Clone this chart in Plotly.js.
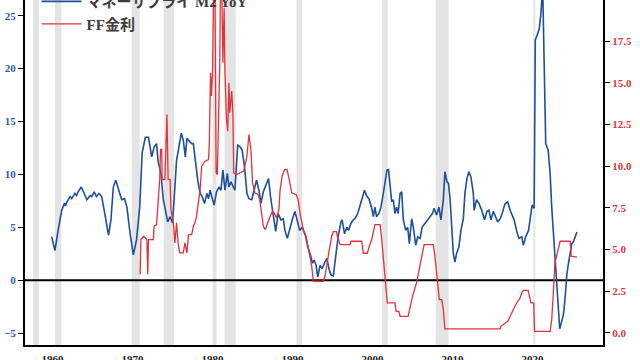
<!DOCTYPE html>
<html>
<head>
<meta charset="utf-8">
<script src="https://cdn.plot.ly/plotly-3.0.1.min.js"></script>
<style>html,body{margin:0;padding:0;background:#fff;}#chart{width:640px;height:360px;}</style>
</head>
<body>
<div id="chart"></div>
<script>
// M2 money supply YoY (%) - left axis
const m2Year = [1959.9,1960.3,1960.7,1961.15,1961.5,1961.6,1961.8,1962.2,1962.4,1962.8,1963.0,1963.2,1963.6,1963.85,1964.3,1964.7,1964.9,1965.2,1965.5,1965.8,1966.15,1966.6,1967.0,1967.3,1967.6,1967.9,1968.3,1968.65,1969.0,1969.3,1969.7,1970.1,1970.5,1970.9,1971.2,1971.6,1972.0,1972.2,1972.4,1972.7,1973.0,1973.2,1973.55,1973.85,1974.15,1974.4,1974.7,1975.0,1975.3,1975.5,1975.8,1976.1,1976.35,1976.6,1976.8,1977.05,1977.4,1977.6,1977.8,1978.15,1978.45,1978.7,1979.0,1979.3,1979.5,1979.7,1979.9,1980.2,1980.5,1980.8,1981.05,1981.3,1981.55,1981.85,1982.05,1982.3,1982.6,1982.8,1983.15,1983.45,1983.7,1984.0,1984.3,1984.55,1984.9,1985.2,1985.5,1985.8,1986.05,1986.35,1986.6,1987.0,1987.3,1987.6,1987.9,1988.2,1988.55,1988.85,1989.05,1989.35,1989.7,1990.0,1990.3,1990.6,1990.9,1991.2,1991.6,1991.9,1992.2,1992.5,1992.7,1992.95,1993.15,1993.45,1993.7,1994.05,1994.3,1994.55,1994.8,1995.1,1995.4,1995.7,1996.05,1996.2,1996.5,1996.8,1997.0,1997.3,1997.6,1997.8,1998.15,1998.45,1998.7,1999.0,1999.3,1999.55,1999.9,2000.1,2000.3,2000.5,2000.8,2001.05,2001.35,2001.55,2001.8,2002.0,2002.2,2002.4,2002.6,2002.8,2003.0,2003.2,2003.45,2003.65,2003.85,2004.15,2004.4,2004.6,2004.9,2005.1,2005.4,2005.65,2005.95,2006.2,2006.55,2006.9,2007.2,2007.5,2007.7,2008.0,2008.3,2008.55,2008.85,2009.05,2009.3,2009.5,2009.7,2009.9,2010.1,2010.3,2010.5,2010.8,2011.05,2011.35,2011.55,2011.8,2012.05,2012.3,2012.6,2012.7,2013.0,2013.3,2013.65,2014.0,2014.3,2014.55,2014.8,2015.1,2015.4,2015.65,2015.95,2016.2,2016.55,2016.9,2017.2,2017.4,2017.7,2018.0,2018.3,2018.65,2018.85,2019.15,2019.5,2019.8,2019.95,2020.2,2020.35,2020.65,2020.85,2021.05,2021.2,2021.3,2021.55,2021.65,2021.95,2022.2,2022.4,2022.6,2022.8,2023.0,2023.2,2023.4,2023.65,2023.85,2024.05,2024.3,2024.5,2024.7,2024.9,2025.1,2025.3,2025.55];
const m2Value = [4.1,2.8,4.7,6.6,7.3,7.0,7.4,7.9,7.7,8.2,8.0,8.35,8.8,8.35,7.6,8.0,7.9,8.35,7.9,8.2,7.9,6.0,4.25,5.7,8.8,9.45,8.5,7.6,7.7,6.9,4.4,2.4,3.8,6.9,12.0,13.5,13.5,12.6,11.65,12.6,12.9,11.2,10.1,7.6,6.6,5.5,6.0,5.4,8.8,11.3,12.6,13.9,13.2,11.65,13.4,13.2,12.9,12.9,11.65,9.45,8.2,7.9,7.25,8.2,7.7,8.5,7.9,7.1,8.35,8.8,8.5,10.4,8.5,10.1,8.8,9.3,8.8,8.5,12.75,12.6,12.3,10.7,8.2,7.7,7.6,8.5,9.45,8.5,7.25,8.35,8.8,9.6,7.6,6.0,4.6,6.3,5.7,5.8,4.7,3.95,5.0,5.8,6.5,5.7,4.7,5.0,4.25,3.15,2.5,1.6,1.9,1.4,0.3,1.4,1.1,1.7,2.05,1.1,0.5,0.4,2.2,4.1,5.5,5.7,4.4,5.0,4.7,5.35,5.7,5.8,6.3,7.1,7.6,8.5,7.9,7.7,6.8,6.0,6.9,6.0,6.3,6.9,8.2,9.2,10.4,10.45,9.1,7.4,7.6,6.3,6.9,6.3,8.2,8.35,5.7,4.7,5.0,3.45,5.8,5.0,3.3,4.1,3.95,5.0,5.35,5.7,6.0,6.3,6.8,6.15,6.9,5.7,7.6,10.25,9.3,9.15,7.6,5.0,2.5,1.7,2.5,3.15,4.7,5.8,8.2,9.6,10.25,9.75,8.2,6.6,7.6,7.25,6.6,5.7,6.5,6.6,5.7,6.5,6.0,5.5,5.8,6.3,7.2,7.4,6.6,6.3,5.7,4.7,3.95,4.1,3.3,4.1,4.7,6.3,7.1,6.8,22.7,23.3,23.8,25.2,26.9,26.6,13.5,12.9,12.3,10.1,6.9,4.4,1.9,-0.3,-2.5,-4.6,-3.9,-3.3,-1.9,0.6,1.6,2.5,3.45,3.6,4.1,4.55];

// Federal funds rate (%) - right axis
const ffYear = [1970.95,1971.05,1971.4,1971.8,1971.9,1972.0,1972.6,1972.7,1973.0,1973.2,1973.4,1973.5,1973.65,1973.7,1974.05,1974.3,1974.45,1974.7,1974.8,1975.1,1975.3,1975.5,1975.7,1975.9,1976.35,1976.55,1976.8,1977.0,1977.4,1977.6,1977.8,1978.0,1978.2,1978.45,1978.65,1979.05,1979.5,1979.6,1979.75,1979.85,1980.0,1980.15,1980.3,1980.45,1980.6,1980.8,1980.9,1981.0,1981.15,1981.3,1981.45,1981.55,1981.75,1981.9,1982.05,1982.15,1982.4,1982.55,1982.65,1983.0,1983.9,1984.3,1984.55,1984.8,1985.0,1985.3,1985.7,1985.9,1986.15,1986.35,1986.6,1986.8,1987.2,1987.5,1987.7,1988.0,1988.3,1988.45,1988.7,1989.0,1989.3,1989.5,1989.9,1990.45,1990.7,1991.0,1991.35,1991.7,1992.0,1992.4,1992.6,1993.85,1994.05,1994.3,1994.6,1994.9,1995.1,1995.5,1995.6,1995.95,1997.2,1997.3,1998.65,1998.85,1999.35,1999.6,1999.9,2000.3,2000.95,2001.15,2001.55,2001.85,2002.8,2002.95,2003.3,2003.45,2004.45,2004.7,2005.0,2005.5,2005.8,2006.15,2006.45,2007.6,2007.8,2008.1,2008.35,2008.65,2008.85,2009.05,2015.95,2016.05,2016.9,2017.2,2017.45,2017.8,2018.15,2018.45,2018.65,2018.85,2019.45,2019.6,2019.8,2020.15,2020.25,2022.2,2022.4,2022.6,2022.8,2023.0,2023.2,2023.45,2024.7,2024.85,2025.55];
const ffRate = [3.5,5.6,5.8,5.6,3.5,5.6,5.6,6.4,6.5,8.0,9.2,11.0,11.0,9.2,9.2,13.1,9.2,9.2,7.4,6.6,5.4,6.6,5.4,4.8,4.8,5.4,4.8,5.9,5.9,6.4,6.6,7.0,7.6,8.6,10.0,10.3,10.4,11.4,15.6,14.2,15.6,21.0,21.0,9.6,9.5,14.2,16.0,21.0,21.0,16.2,19.5,15.7,12.8,12.1,15.0,13.2,14.5,13.1,9.6,9.5,9.7,10.6,11.9,11.0,9.0,8.4,8.3,8.0,7.0,6.4,6.2,6.5,7.0,7.3,7.2,6.9,7.4,8.6,9.4,9.8,9.8,9.4,8.4,8.3,8.0,7.0,6.2,5.8,5.0,4.0,3.1,3.1,3.4,4.2,5.0,5.8,6.07,6.07,5.8,5.3,5.3,5.5,5.5,4.78,4.78,5.2,5.6,6.5,6.5,5.6,3.6,1.8,1.8,1.3,1.3,1.0,1.0,1.6,2.2,3.0,3.7,4.4,5.3,5.3,4.6,3.2,2.0,2.0,1.4,0.25,0.25,0.4,0.7,1.0,1.3,1.6,1.9,2.1,2.4,2.55,2.55,2.2,1.8,1.8,0.1,0.1,0.8,2.4,4.2,4.6,5.1,5.5,5.5,4.6,4.55];

// NBER recessions
const recStart = [1957.6,1960.3,1969.9,1973.9,1980.0,1981.5,1990.5,2001.2,2007.9,2020.1];
const recEnd   = [1958.3,1961.1,1970.9,1975.2,1980.5,1982.9,1991.2,2001.9,2009.5,2020.35];

const xTicks = [1960,1970,1980,1990,2000,2010,2020];
const leftTicks = [-5,0,5,10,15,20,25];
const rightTicks = [0,2.5,5,7.5,10,12.5,15,17.5,20];

const serif = "'Liberation Serif', 'Times New Roman', 'Noto Sans CJK JP', serif";
const blue = '#1f4e9c';
const red = '#e3323a';

const shapes = recStart.map((s, i) => ({
  type: 'rect', xref: 'x', yref: 'paper', x0: s, x1: recEnd[i], y0: 0, y1: 1,
  fillcolor: '#e4e4e4', line: {width: 0}, layer: 'below'
}));
shapes.push({type: 'line', xref: 'paper', yref: 'y', x0: 0, x1: 1, y0: 0, y1: 0,
  line: {color: '#000', width: 2}, layer: 'below'});

const traces = [
  {x: m2Year, y: m2Value, type: 'scatter', mode: 'lines', name: 'マネーサプライ M2 YoY',
   line: {color: blue, width: 1.6}, yaxis: 'y'},
  {x: ffYear, y: ffRate, type: 'scatter', mode: 'lines', name: 'FF金利',
   line: {color: red, width: 1.3}, yaxis: 'y2'}
];

const layout = {
  width: 640, height: 360,
  margin: {l: 25, r: 37, t: 0, b: 15, autoexpand: false},
  paper_bgcolor: '#fff', plot_bgcolor: '#fff',
  showlegend: true,
  legend: {x: 0.02, y: 1.043, xanchor: 'left', yanchor: 'top', bgcolor: 'rgba(0,0,0,0)',
    font: {family: serif, size: 15, color: '#3c3c3c', weight: 'bold'}, itemwidth: 40},
  xaxis: {range: [1956.56, 2028.81], tickvals: xTicks, showgrid: false, zeroline: false,
    showline: true, linecolor: '#000', linewidth: 2, ticks: 'outside', ticklen: 3,
    tickcolor: 'rgba(0,0,0,0)', tickfont: {family: serif, size: 11, color: '#222', weight: 'bold'}},
  yaxis: {range: [-6.13, 26.48], tickvals: leftTicks, showgrid: false, zeroline: false,
    showline: true, linecolor: '#000', linewidth: 2, ticks: 'outside', ticklen: 5, tickwidth: 1,
    tickcolor: '#000', tickfont: {family: serif, size: 11, color: '#2a5aa8', weight: 'bold'}},
  yaxis2: {range: [-0.72, 19.96], overlaying: 'y', side: 'right', tickvals: rightTicks,
    tickformat: '.1f', showgrid: false, zeroline: false, showline: true, linecolor: '#000',
    linewidth: 2, ticks: 'outside', ticklen: 5, tickwidth: 1, tickcolor: '#000',
    tickfont: {family: serif, size: 11, color: '#e0383f', weight: 'bold'}},
  shapes: shapes
};

Plotly.newPlot('chart', traces, layout, {staticPlot: true, displayModeBar: false});
</script>
</body>
</html>
